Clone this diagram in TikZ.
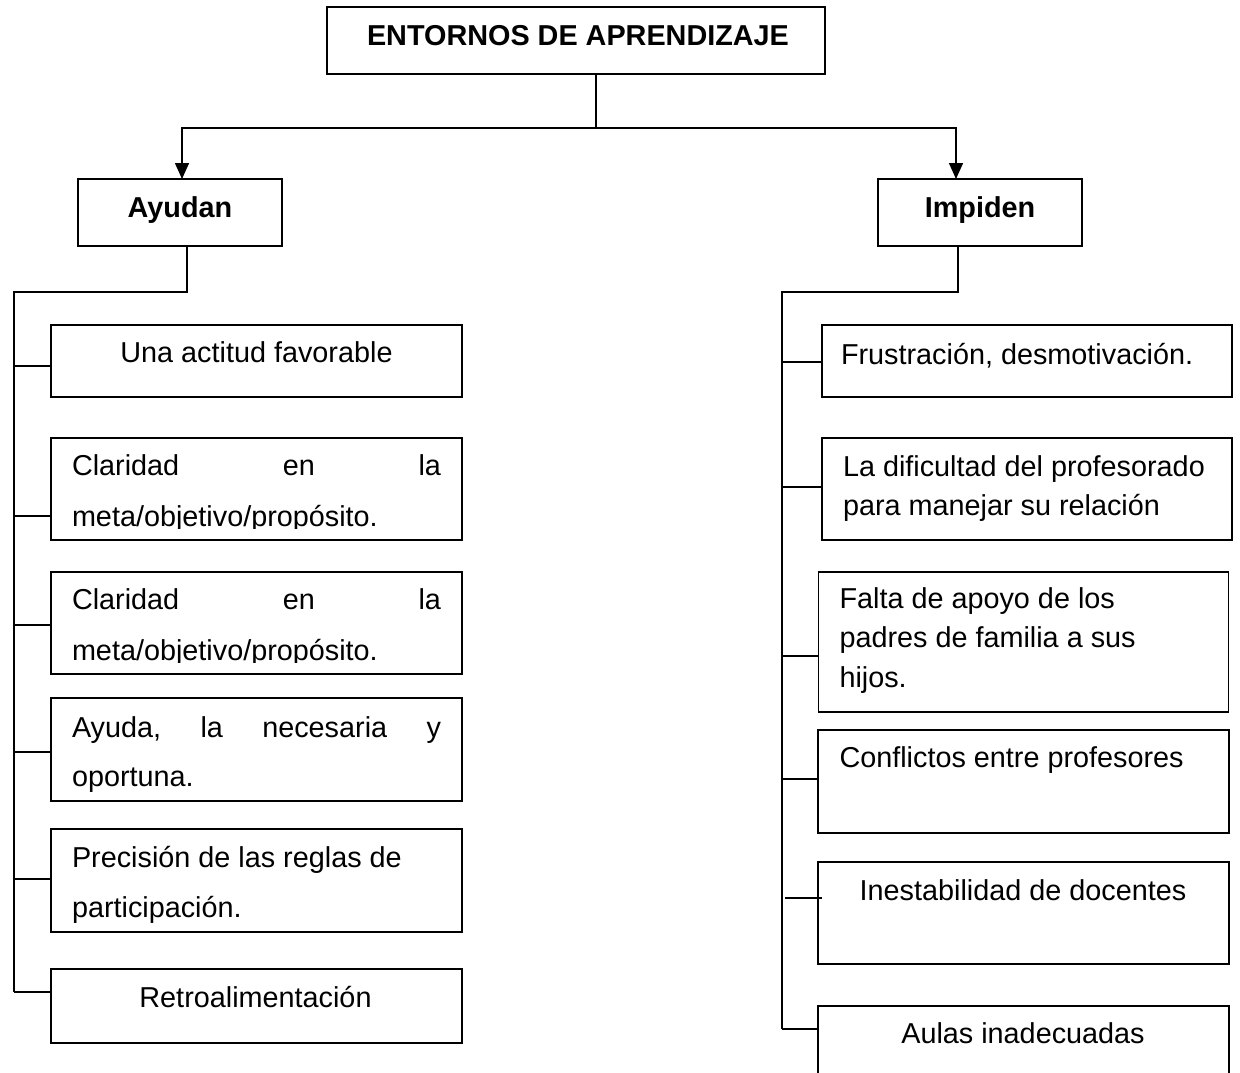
\documentclass[tikz,border=0pt]{standalone}
\usepackage{fontspec}
\setmainfont{Liberation Sans}
\usetikzlibrary{arrows.meta,calc}
\begin{document}
\begin{tikzpicture}[x=1pt,y=-1pt,
  box/.style={draw,line width=1.5pt,inner sep=0pt,outer sep=0pt},
  txt/.style={inner sep=0pt,outer sep=0pt,font=\fontsize{28.8}{34}\selectfont},
  btxt/.style={txt,font=\fontsize{28.8}{34}\selectfont\bfseries},
  conn/.style={line width=1.5pt},
  arr/.style={conn,-{Triangle[length=16pt,width=14pt]}}]
\path[use as bounding box] (0,0) rectangle (1240,1073);
\clip (0,0) rectangle (1240,1073);
% main boxes
\node[box,minimum width=498pt,minimum height=67pt] (top) at (576,40.5) {};
\node[btxt,anchor=base] (ttop) at (578,46) {ENTORNOS DE APRENDIZAJE};
\node[box,minimum width=204pt,minimum height=67pt] (ay) at (180,212.5) {};
\node[btxt,anchor=base] (tay) at (180,217) {Ayudan};
\node[box,minimum width=204pt,minimum height=67pt] (im) at (980,212.5) {};
\node[btxt,anchor=base] (tim) at (980,217) {Impiden};
% left boxes
\node[box,minimum width=411pt,minimum height=72pt] (l1) at (256.5,361) {};
\node[box,minimum width=411pt,minimum height=102pt] (l2) at (256.5,489) {};
\node[box,minimum width=411pt,minimum height=102pt] (l3) at (256.5,623) {};
\node[box,minimum width=411pt,minimum height=103pt] (l4) at (256.5,749.5) {};
\node[box,minimum width=411pt,minimum height=103pt] (l5) at (256.5,880.5) {};
\node[box,minimum width=411pt,minimum height=74pt] (l6) at (256.5,1006) {};
% right boxes
\node[box,minimum width=410pt,minimum height=72pt] (r1) at (1027,361) {};
\node[box,minimum width=410pt,minimum height=102pt] (r2) at (1027,489) {};
\node[box,minimum width=410pt,minimum height=140pt] (r3) at (1023.5,642) {};
\node[box,minimum width=411pt,minimum height=103pt] (r4) at (1023.5,781.5) {};
\node[box,minimum width=411pt,minimum height=102pt] (r5) at (1023.5,913) {};
\node[box,minimum width=411pt,minimum height=114pt] (r6) at (1023.5,1063) {};
% left texts
\node[txt,anchor=base] (tl1) at (256.5,362) {Una actitud favorable};
\node[txt,anchor=base west] (tl2a) at (72,475) {\makebox[369pt][l]{Claridad\hfill en\hfill la}};
\begin{scope}
\clip (51,440) rectangle (462,528);
\node[txt,anchor=base west] (tl2b) at (72,526) {meta/objetivo/propósito.};
\end{scope}
\node[txt,anchor=base west] (tl3a) at (72,609) {\makebox[369pt][l]{Claridad\hfill en\hfill la}};
\begin{scope}
\clip (51,574) rectangle (462,662);
\node[txt,anchor=base west] (tl3b) at (72,660) {meta/objetivo/propósito.};
\end{scope}
\node[txt,anchor=base west] (tl4a) at (72,737) {\makebox[369pt][l]{Ayuda,\hfill la\hfill necesaria\hfill y}};
\node[txt,anchor=base west] (tl4b) at (72,786) {oportuna.};
\node[txt,anchor=base west] (tl5a) at (72,867) {Precisión de las reglas de};
\node[txt,anchor=base west] (tl5b) at (72,917) {participación.};
\node[txt,anchor=base] (tl6) at (255.5,1007) {Retroalimentación};
% right texts
\node[txt,anchor=base west] (tr1) at (841,364) {Frustración, desmotivación.};
\node[txt,anchor=base west] (tr2a) at (843,476) {La dificultad del profesorado};
\node[txt,anchor=base west] (tr2b) at (843,515) {para manejar su relación};
\node[txt,anchor=base west] (tr3a) at (839.5,608) {Falta de apoyo de los};
\node[txt,anchor=base west] (tr3b) at (839.5,647) {padres de familia a sus};
\node[txt,anchor=base west] (tr3c) at (839.5,687) {hijos.};
\node[txt,anchor=base west] (tr4) at (839.5,767) {Conflictos entre profesores};
\node[txt,anchor=base] (tr5) at (1023,900) {Inestabilidad de docentes};
\node[txt,anchor=base] (tr6) at (1023,1043) {Aulas inadecuadas};
% top connectors
\coordinate (jt) at (596,128);
\draw[conn] (top.south -| jt) -- (jt);
\draw[arr] (jt) -| ([xshift=2pt]ay.north);
\draw[arr] (jt) -| ([xshift=-24pt]im.north);
% left tree
\coordinate (lt) at (14,292);
\coordinate (lb) at (14,992);
\draw[conn] ([xshift=7pt]ay.south) |- (lt) -- (lb);
\draw[conn] (14,366) -- (l1.west |- 0,366);
\draw[conn] (14,516) -- (l2.west |- 0,516);
\draw[conn] (14,625) -- (l3.west |- 0,625);
\draw[conn] (14,752) -- (l4.west |- 0,752);
\draw[conn] (14,879) -- (l5.west |- 0,879);
\draw[conn] (lb) -- (l6.west |- lb);
% right tree
\coordinate (rt) at (782,292);
\coordinate (rb) at (782,1029);
\draw[conn] ([xshift=-22pt]im.south) |- (rt) -- (rb);
\draw[conn] (782,362) -- (r1.west |- 0,362);
\draw[conn] (782,487) -- (r2.west |- 0,487);
\draw[conn] (782,656) -- (r3.west |- 0,656);
\draw[conn] (782,779) -- (r4.west |- 0,779);
\draw[conn] (785,898) -- ([xshift=4pt]r5.west |- 0,898);
\draw[conn] (rb) -- (r6.west |- rb);
\end{tikzpicture}
\end{document}
